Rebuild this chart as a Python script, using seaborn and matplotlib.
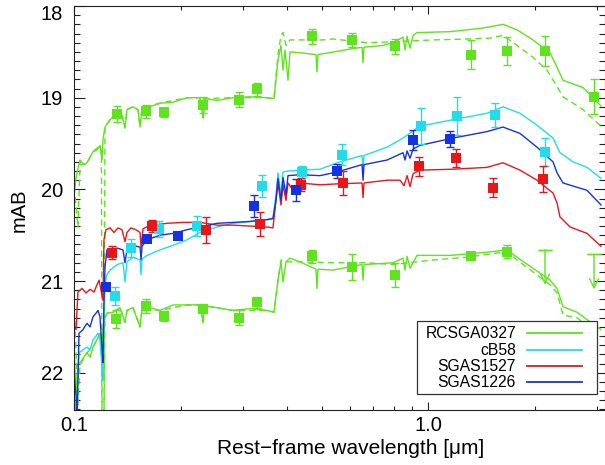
import numpy as np
import pandas as pd
import matplotlib
matplotlib.use("Agg")
import matplotlib.pyplot as plt
import seaborn as sns
from matplotlib.ticker import FixedLocator, LogLocator, NullFormatter, FixedFormatter, MultipleLocator
from matplotlib.patches import Rectangle
from matplotlib.lines import Line2D

# ---------------- data (rest-frame wavelength [um], AB magnitude) ----------------
red_wl = [0.1000, 0.1013, 0.1026, 0.1053, 0.1081, 0.1110, 0.1139, 0.1161, 0.1177, 0.1192,
          0.1207, 0.1215, 0.1231, 0.1264, 0.1297, 0.1331, 0.1366, 0.1393, 0.1411, 0.1448,
          0.1496, 0.1536, 0.1546, 0.1566, 0.1639, 0.1748, 0.1830, 0.2031, 0.2268, 0.2533,
          0.2811, 0.3140, 0.3504, 0.3644, 0.3716, 0.3765, 0.3839, 0.3890, 0.3966, 0.4018,
          0.4150, 0.4341, 0.4946, 0.5525, 0.6501, 0.6544, 0.6586, 0.7646, 0.8322, 0.8541,
          0.8710, 0.8881, 0.9056, 0.9476, 1.174, 1.464, 1.625, 1.815, 2.027, 2.249,
          2.309, 2.353, 2.512, 2.805, 3.072]
red_mag = [21.48, 21.53, 21.12, 21.08, 21.13, 21.09, 21.12, 21.04, 20.99, 21.10,
           21.21, 20.55, 20.44, 20.42, 20.47, 20.42, 20.44, 20.57, 20.47, 20.42,
           20.44, 20.47, 20.63, 20.43, 20.39, 20.38, 20.37, 20.36, 20.36, 20.39,
           20.39, 20.40, 20.41, 20.42, 20.12, 19.93, 20.17, 19.95, 20.12, 19.93,
           20.01, 19.93, 19.95, 19.94, 19.93, 20.09, 19.93, 19.90, 19.90, 19.96,
           19.85, 19.97, 19.83, 19.79, 19.78, 19.76, 19.71, 19.79, 19.90, 20.04,
           20.15, 20.30, 20.41, 20.48, 20.62]

blue_wl = [0.1000, 0.1013, 0.1020, 0.1033, 0.1060, 0.1088, 0.1110, 0.1131, 0.1154, 0.1169,
           0.1184, 0.1200, 0.1207, 0.1215, 0.1223, 0.1239, 0.1264, 0.1323, 0.1375, 0.1393,
           0.1411, 0.1467, 0.1536, 0.1546, 0.1556, 0.1607, 0.1748, 0.1903, 0.2084, 0.2268,
           0.2533, 0.2811, 0.3140, 0.3504, 0.3644, 0.3716, 0.3765, 0.3839, 0.3890, 0.3966,
           0.4018, 0.4341, 0.4946, 0.5525, 0.6501, 0.6544, 0.6586, 0.7646, 0.8486, 0.8597,
           0.8710, 0.8881, 0.9056, 0.9476, 1.174, 1.464, 1.625, 1.815, 2.027, 2.249,
           2.309, 2.400, 2.805, 3.072]
blue_mag = [22.00, 22.24, 22.52, 21.57, 21.53, 21.46, 21.50, 21.39, 21.35, 21.32,
            21.39, 21.75, 21.89, 21.21, 20.85, 20.66, 20.66, 20.64, 20.66, 20.80,
            20.66, 20.61, 20.63, 20.77, 20.62, 20.55, 20.50, 20.48, 20.44, 20.41,
            20.37, 20.36, 20.35, 20.33, 20.32, 20.12, 19.88, 20.12, 19.87, 20.06,
            19.85, 19.84, 19.85, 19.81, 19.73, 19.90, 19.73, 19.68, 19.60, 19.68,
            19.58, 19.66, 19.56, 19.52, 19.44, 19.37, 19.32, 19.39, 19.54, 19.70,
            19.82, 19.93, 20.01, 20.17]

cyan_wl = [0.1000, 0.1013, 0.1033, 0.1060, 0.1088, 0.1110, 0.1131, 0.1154, 0.1169, 0.1184,
           0.1200, 0.1207, 0.1215, 0.1223, 0.1239, 0.1264, 0.1323, 0.1375, 0.1393, 0.1411,
           0.1467, 0.1536, 0.1546, 0.1556, 0.1607, 0.1748, 0.1903, 0.2084, 0.2268, 0.2533,
           0.2811, 0.3140, 0.3504, 0.3644, 0.3716, 0.3765, 0.3839, 0.3890, 0.4018, 0.4341,
           0.4946, 0.5525, 0.6501, 0.6544, 0.6586, 0.7646, 0.8322, 0.8710, 0.9476, 1.174,
           1.464, 1.625, 1.815, 2.027, 2.249, 2.353, 2.561, 2.805, 3.072]
cyan_mag = [22.22, 22.52, 21.78, 21.75, 21.72, 21.75, 21.64, 21.60, 21.57, 21.64,
            21.94, 22.08, 21.42, 21.02, 20.93, 20.88, 20.82, 20.80, 21.01, 20.79,
            20.74, 20.77, 20.93, 20.76, 20.72, 20.66, 20.61, 20.55, 20.47, 20.41,
            20.37, 20.35, 20.33, 20.31, 20.06, 19.82, 20.06, 19.81, 19.80, 19.79,
            19.78, 19.71, 19.63, 19.76, 19.63, 19.54, 19.46, 19.41, 19.31, 19.24,
            19.17, 19.10, 19.17, 19.30, 19.44, 19.60, 19.70, 19.76, 19.88]

# RCSGA0327, upper image: solid and dashed models
g_top_wl = [0.1000, 0.1013, 0.1026, 0.1040, 0.1067, 0.1088, 0.1110, 0.1131, 0.1161, 0.1184,
            0.1200, 0.1207, 0.1223, 0.1264, 0.1323, 0.1366, 0.1393, 0.1411, 0.1467, 0.1516,
            0.1536, 0.1556, 0.1607, 0.1748, 0.1903, 0.2084, 0.2268, 0.2313, 0.2343, 0.2533,
            0.2811, 0.3140, 0.3504, 0.3668, 0.3765, 0.3839, 0.3890, 0.3940, 0.4018, 0.4070,
            0.4341, 0.4819, 0.4851, 0.4883, 0.6012, 0.6501, 0.6544, 0.6586, 0.7451, 0.8054,
            0.8486, 0.8597, 0.8710, 0.8881, 0.9056, 0.9292, 1.151, 1.285, 1.427, 1.625,
            1.780, 1.975, 2.206, 2.309, 2.400, 2.733, 3.072]
g_top_mag = [20.06, 19.88, 19.77, 19.68, 19.73, 19.71, 19.65, 19.59, 19.57, 19.52,
             19.68, 19.46, 19.32, 19.24, 19.17, 19.19, 19.33, 19.13, 19.10, 19.13,
             19.32, 19.11, 19.11, 19.06, 19.05, 19.00, 19.00, 19.22, 19.01, 19.03,
             19.00, 18.99, 19.00, 19.01, 18.59, 18.43, 18.70, 18.48, 18.81, 18.50,
             18.51, 18.53, 18.72, 18.53, 18.47, 18.45, 18.62, 18.45, 18.43, 18.39,
             18.34, 18.48, 18.33, 18.46, 18.32, 18.29, 18.28, 18.26, 18.24, 18.20,
             18.26, 18.37, 18.51, 18.67, 18.81, 18.89, 19.09]
g_top_d_wl = [0.1000, 0.1013, 0.1026, 0.1040, 0.1067, 0.1088, 0.1131, 0.1184, 0.1195, 0.1200,
              0.1215, 0.1223, 0.1264, 0.1323, 0.1366, 0.1393, 0.1411, 0.1467, 0.1516, 0.1536,
              0.1556, 0.1748, 0.2084, 0.2268, 0.2313, 0.2343, 0.2811, 0.3504, 0.3668, 0.3765,
              0.3839, 0.3890, 0.3966, 0.4070, 0.4427, 0.5044, 0.5383, 0.6714, 0.7951, 1.031,
              1.285, 1.493, 1.625, 1.780, 1.975, 2.163, 2.309, 2.400, 2.733, 3.072]
g_top_d_mag = [19.97, 20.17, 20.42, 19.73, 19.73, 19.71, 19.59, 19.52, 19.60, 22.52,
               22.52, 19.32, 19.24, 19.17, 19.19, 19.33, 19.13, 19.10, 19.13, 19.32,
               19.11, 19.06, 19.00, 19.00, 19.22, 19.01, 19.00, 19.00, 19.01, 18.53,
               18.32, 18.29, 18.43, 18.37, 18.37, 18.37, 18.36, 18.40, 18.39, 18.37,
               18.36, 18.35, 18.32, 18.43, 18.56, 18.70, 18.88, 18.99, 19.13, 19.31]

# RCSGA0327, lower image: solid and dashed models
g_bot_wl = [0.1000, 0.1013, 0.1026, 0.1053, 0.1088, 0.1110, 0.1131, 0.1161, 0.1184, 0.1200,
            0.1207, 0.1223, 0.1239, 0.1289, 0.1348, 0.1393, 0.1411, 0.1467, 0.1536, 0.1556,
            0.1607, 0.1748, 0.1903, 0.2084, 0.2268, 0.2313, 0.2343, 0.2533, 0.2811, 0.3140,
            0.3504, 0.3668, 0.3765, 0.3839, 0.3890, 0.3966, 0.4070, 0.4341, 0.4819, 0.4851,
            0.4883, 0.5383, 0.6501, 0.6544, 0.6586, 0.7951, 0.8486, 0.8597, 0.8710, 0.8881,
            0.9292, 1.151, 1.427, 1.668, 1.780, 1.975, 2.206, 2.309, 2.400, 2.629,
            2.994, 3.072]
g_bot_mag = [21.70, 22.24, 21.92, 21.86, 21.78, 21.83, 21.72, 21.64, 21.57, 21.70,
             21.53, 21.40, 21.35, 21.34, 21.29, 21.45, 21.32, 21.29, 21.50, 21.30,
             21.28, 21.32, 21.26, 21.26, 21.26, 21.45, 21.27, 21.29, 21.32, 21.30,
             21.32, 21.34, 20.99, 20.79, 21.01, 20.79, 20.75, 20.79, 20.87, 21.08,
             20.87, 20.88, 20.82, 20.99, 20.82, 20.80, 20.75, 20.88, 20.73, 20.86,
             20.72, 20.72, 20.69, 20.66, 20.74, 20.86, 20.99, 21.08, 21.28, 21.34,
             21.50, 21.53]
g_bot_d_wl = [0.1000, 0.1013, 0.1026, 0.1040, 0.1088, 0.1131, 0.1184, 0.1195, 0.1200, 0.1215,
              0.1223, 0.1239, 0.1289, 0.1348, 0.1393, 0.1411, 0.1467, 0.1536, 0.1556, 0.1748,
              0.2084, 0.2268, 0.2313, 0.2343, 0.2811, 0.3504, 0.3668, 0.3765, 0.3839, 0.3966,
              0.4341, 0.5383, 0.6714, 0.7951, 1.031, 1.285, 1.594, 1.668, 1.780, 1.975,
              2.206, 2.309, 2.400, 2.629, 2.994, 3.072]
g_bot_d_mag = [21.21, 21.75, 22.35, 21.92, 21.78, 21.72, 21.57, 21.65, 22.52, 22.52,
               21.40, 21.35, 21.34, 21.29, 21.45, 21.32, 21.29, 21.50, 21.30, 21.32,
               21.26, 21.26, 21.45, 21.27, 21.32, 21.32, 21.34, 20.99, 20.77, 20.79,
               20.79, 20.80, 20.80, 20.82, 20.77, 20.74, 20.69, 20.68, 20.77, 20.90,
               21.04, 21.13, 21.37, 21.40, 21.57, 21.61]

# photometry
gt_wl = [0.1320, 0.1597, 0.1798, 0.2308, 0.2927, 0.3280, 0.4688, 0.6103, 0.8042, 1.318, 1.671, 2.135, 2.936]
gt_mag = [19.18, 19.15, 19.16, 19.08, 19.02, 18.91, 18.33, 18.37, 18.44, 18.53, 18.49, 18.49, 18.99]
gt_err = [0.09, 0.07, 0.05, 0.09, 0.08, 0.07, 0.08, 0.08, 0.08, 0.16, 0.15, 0.16, 0.19]

gb_wl = [0.1314, 0.1594, 0.1795, 0.2317, 0.2922, 0.3280, 0.4688, 0.6103, 0.8073, 1.318, 1.671]
gb_mag = [21.41, 21.27, 21.38, 21.30, 21.40, 21.23, 20.73, 20.85, 20.93, 20.73, 20.68]
gb_err = [0.10, 0.08, 0.05, 0.05, 0.08, 0.06, 0.07, 0.14, 0.13, 0.04, 0.07]
gb_lim_wl = [2.135, 2.936]
gb_lim_mag = [20.66, 20.71]

red_pt_wl = [0.1283, 0.1657, 0.2358, 0.3356, 0.4385, 0.5756, 0.9432, 1.197, 1.526, 2.112]
red_pt_mag = [20.69, 20.40, 20.44, 20.38, 19.95, 19.93, 19.75, 19.66, 19.98, 19.89]
red_pt_err = [0.07, 0.07, 0.14, 0.13, 0.07, 0.13, 0.10, 0.10, 0.10, 0.14]

cyan_pt_wl = [0.1305, 0.1448, 0.1738, 0.2220, 0.3387, 0.4409, 0.5697, 0.9537, 1.207, 1.543, 2.135]
cyan_pt_mag = [21.16, 20.64, 20.43, 20.40, 19.96, 19.81, 19.62, 19.31, 19.20, 19.19, 19.59]
cyan_pt_err = [0.10, 0.10, 0.09, 0.11, 0.12, 0.07, 0.11, 0.20, 0.21, 0.13, 0.15]

blue_pt_wl = [0.1235, 0.1612, 0.1960, 0.3222, 0.4224, 0.5514, 0.9073, 1.151]
blue_pt_mag = [21.07, 20.54, 20.51, 20.18, 20.01, 19.80, 19.46, 19.45]
blue_pt_err = [0.03, 0.03, 0.03, 0.12, 0.12, 0.08, 0.11, 0.09]

legend_names = ["RCSGA0327", "cB58", "SGAS1527", "SGAS1226"]
y_ticks = [18, 19, 20, 21, 22]
x_ticks = [0.1, 1.0]
x_tick_labels = ["0.1", "1.0"]

GREEN, CYAN, RED, BLUE = "#5fe31f", "#22dde9", "#e8161b", "#1432e0"

# ---------------- figure ----------------
plt.rcParams['font.family'] = ['Liberation Sans', 'DejaVu Sans']
fig = plt.figure(figsize=(6.05, 4.65), dpi=100)
W, H = 605.0, 465.0
ax = fig.add_axes([74 / W, 1 - 410 / H, (605 - 74) / W, 404 / H])

lw = 1.0
def spec(wl, mag, color, ls="-"):
    df = pd.DataFrame({"wl": wl, "mag": mag})
    sns.lineplot(data=df, x="wl", y="mag", ax=ax, color=color, lw=lw,
                 estimator=None, sort=False, linestyle=ls)

dash = (0, (4.5, 3.0))
spec(g_top_wl, g_top_mag, GREEN)
spec(g_top_d_wl, g_top_d_mag, GREEN, dash)
spec(g_bot_wl, g_bot_mag, GREEN)
spec(g_bot_d_wl, g_bot_d_mag, GREEN, dash)
spec(cyan_wl, cyan_mag, CYAN)
spec(red_wl, red_mag, RED)
spec(blue_wl, blue_mag, BLUE)

def points(wl, mag, err, color):
    ax.errorbar(wl, mag, yerr=err, fmt="none", ecolor=color, elinewidth=1.0,
                capsize=2.6, capthick=1.0, zorder=4)
    sns.scatterplot(x=wl, y=mag, ax=ax, color=color, marker="s", s=48,
                    linewidth=0, zorder=5)

points(gt_wl, gt_mag, gt_err, GREEN)
points(gb_wl, gb_mag, gb_err, GREEN)
points(cyan_pt_wl, cyan_pt_mag, cyan_pt_err, CYAN)
points(red_pt_wl, red_pt_mag, red_pt_err, RED)
points(blue_pt_wl, blue_pt_mag, blue_pt_err, BLUE)

# upper limits (cap + downward arrow toward fainter magnitudes)
lim_len = 0.38
for xw, ym in zip(gb_lim_wl, gb_lim_mag):
    ax.errorbar([xw], [ym], yerr=[[0], [0]], fmt="none", ecolor=GREEN,
                elinewidth=1.0, capsize=5.0, capthick=1.0, zorder=4)
    ax.annotate("", xy=(xw, ym + lim_len), xytext=(xw, ym),
                arrowprops=dict(arrowstyle="->,head_length=0.65,head_width=0.32",
                                color=GREEN, lw=1.0, shrinkA=0, shrinkB=0))

# ---------------- axes ----------------
ax.set_xscale("log")
ax.set_xlim(0.1, 3.153)
ax.set_ylim(22.406, 18.0)
ax.xaxis.set_major_locator(FixedLocator(x_ticks))
ax.xaxis.set_major_formatter(FixedFormatter(x_tick_labels))
ax.xaxis.set_minor_locator(LogLocator(base=10, subs=np.arange(2, 10)))
ax.xaxis.set_minor_formatter(NullFormatter())
ax.yaxis.set_major_locator(FixedLocator(y_ticks))
ax.yaxis.set_major_formatter(FixedFormatter([""] + [str(v) for v in y_ticks[1:]]))
ax.yaxis.set_minor_locator(MultipleLocator(0.1))

ax.tick_params(axis="both", which="both", direction="in", top=True, right=True,
               colors="#222222", width=0.8, labelsize=14.5, labelcolor="black")
ax.tick_params(axis="x", which="major", length=5.8, pad=4.5)
ax.tick_params(axis="x", which="minor", length=2.9)
ax.tick_params(axis="y", which="major", length=8.0, pad=8.0)
ax.tick_params(axis="y", which="minor", length=4.0)
for s in ax.spines.values():
    s.set_color("#222222")
    s.set_linewidth(0.8)

ax.annotate(str(y_ticks[0]), xy=(0, y_ticks[0]), xycoords=("axes fraction", "data"),
            xytext=(-11, -8), textcoords="offset pixels", ha="right", va="center",
            fontsize=14.5)

ax.set_xlabel("Rest\u2212frame wavelength [\u03bcm]", fontsize=15)
ax.xaxis.set_label_coords((351 - 74) / 531, (410 - 439) / 404)
ax.set_ylabel("mAB", fontsize=14.5)
ax.yaxis.set_label_coords((29 - 74) / 531, (410 - 210) / 404)

# ---------------- legend (drawn as a box of labelled line samples) ----------------
fig.patches.append(Rectangle((417 / W, 1 - 394 / H), 180 / W, 73 / H,
                             transform=fig.transFigure, facecolor="white",
                             edgecolor="#333333", lw=0.9, zorder=5))
row_y = [333.0, 349.8, 366.0, 382.0]
for name, col, yy in zip(legend_names, [GREEN, CYAN, RED, BLUE], row_y):
    fig.text(516 / W, 1 - (yy + 5.0) / H, name, ha="right", va="baseline",
             fontsize=11.3, zorder=6)
    fig.lines.append(Line2D([527 / W, 582 / W], [1 - yy / H, 1 - yy / H],
                            transform=fig.transFigure, color=col, lw=1.3, zorder=6))

fig.savefig("out.png", dpi=100)
